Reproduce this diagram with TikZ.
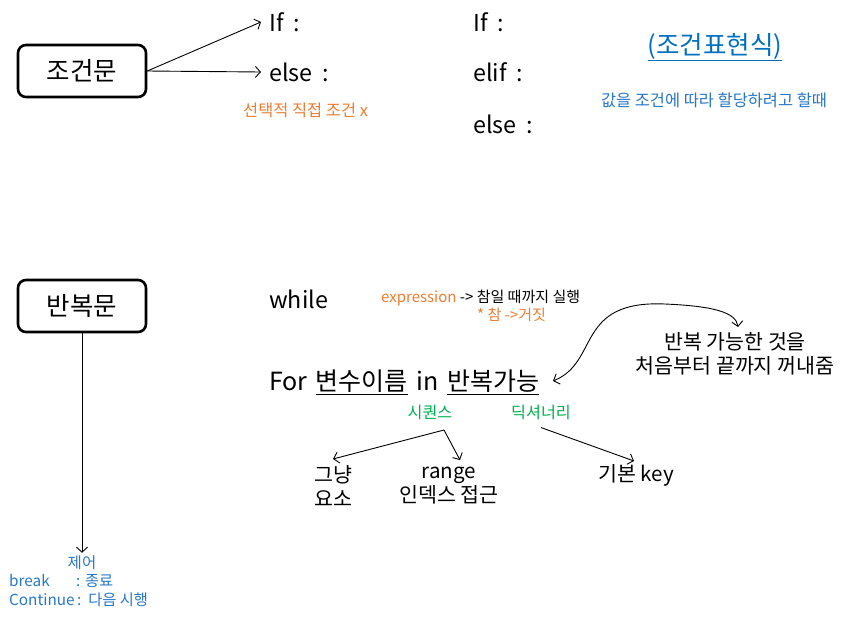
\documentclass[tikz,border=0pt]{standalone}
\usepackage{fontspec}
\setmainfont{Noto Sans CJK KR}
\usetikzlibrary{arrows.meta}
\definecolor{orng}{RGB}{237,125,49}
\definecolor{blu}{RGB}{0,112,192}
\definecolor{blu2}{RGB}{40,120,200}
\definecolor{grn}{RGB}{0,176,80}
\newcommand{\fsz}[1]{\fontsize{#1}{#1}\selectfont}
\newcommand{\wsp}{\hspace{0.42em}}
\newcommand{\fsp}{\hspace{0.34em}}
\begin{document}
\begin{tikzpicture}[x=1pt,y=-1pt,
  mainbox/.style={draw, line width=2.6pt, rounded corners=8pt, minimum width=128pt, minimum height=52pt, font=\fsz{25.5}},
  big/.style={inner sep=0pt, anchor=west, font=\fsz{23.3}},
  mid/.style={inner sep=0pt, font=\fontsize{20.6}{24}\selectfont},
  small/.style={inner sep=0pt, font=\fsz{16.4}},
  arr/.style={line width=0.9pt, -{Straight Barb[length=5pt,width=11pt]}},
]
\useasboundingbox (0,0) rectangle (849,619);
\fill[white] (0,0) rectangle (849,619);

% --- conditional
\node[mainbox] (cond) at (82,71) {조건문};
\node[big] (if1) at (269,22) {If\wsp:};
\node[big] (else1) at (269,72) {else\wsp:};
\node[small, text=orng, anchor=west] (note1) at (243,110) {선택적 직접 조건 x};
\draw[arr] (cond.east) -- ([xshift=-8pt]if1.west);
\draw[arr] (cond.east) -- ([xshift=-8pt]else1.west);

\node[big] (if2) at (473,22) {If\wsp:};
\node[big] (elif2) at (473,72) {elif\wsp:};
\node[big] (else2) at (473,124) {else\wsp:};
\node[inner sep=0pt, text=blu, font=\fsz{25.5}] (ternary) at (715,47) {\underline{(조건표현식)}};
\node[small, text=blu2] (note2) at (714,100) {값을 조건에 따라 할당하려고 할때};

% --- loop
\node[mainbox] (loop) at (82,306) {반복문};
\node[text=blu2, inner sep=0pt, font=\fsz{15.5}] (ctrl) at (82,563) {제어};
\node[text=blu2, inner sep=0pt, font=\fsz{15.3}, anchor=west] (brk) at (9,581) {\makebox[67pt][l]{break}: 종료};
\node[text=blu2, inner sep=0pt, font=\fsz{15.3}, anchor=west] (cnt) at (9,600) {Continue\,:\ \ 다음 시행};
\draw[arr] (loop.south) -- ([yshift=3pt]ctrl.north);

\node[big] (while) at (269,299) {while};
\node[inner sep=0pt, font=\fsz{15}, anchor=west] (expr) at (381,298) {\textcolor{orng}{expression} -> 참일 때까지 실행};
\node[inner sep=0pt, font=\fsz{15}, text=orng, anchor=west] (tf) at (477,315) {* 참 ->거짓};

\node[inner sep=0pt, anchor=west, font=\fsz{25}] (forl) at (269,382) {For\fsp\underline{변수이름}\fsp in\fsp\underline{반복가능}};
\node[mid, align=center] (iter) at (735,354) {반복 가능한 것을\\처음부터 끝까지 꺼내줌};
\coordinate (cA) at (553,381);
\coordinate (cB) at (738,327);
\draw[line width=0.9pt, {Straight Barb[length=5pt,width=11pt]}-{Straight Barb[length=5pt,width=11pt]}]
  (cA) .. controls (600,362) and (575,300) .. (665,304)
       .. controls (712,306) and (736,312) .. (cB);

\node[inner sep=0pt, font=\fsz{16.2}, text=grn] (seq) at (430,412) {시퀀스};
\node[inner sep=0pt, font=\fsz{16.2}, text=grn] (dict) at (541,412) {딕셔너리};
\node[mid, anchor=west, align=left] (just) at (314,486) {그냥\\요소};
\node[mid, align=center] (rng) at (449,486) {range\\인덱스 접근};
\node[mid, anchor=west] (key) at (598,475) {기본 key};
\coordinate (sq) at (444,430);
\draw[arr] (sq) -- (333,459);
\draw[arr] (sq) -- (460,460);
\draw[arr] (dict.south) ++(0,8) -- (634,461);
\end{tikzpicture}
\end{document}
